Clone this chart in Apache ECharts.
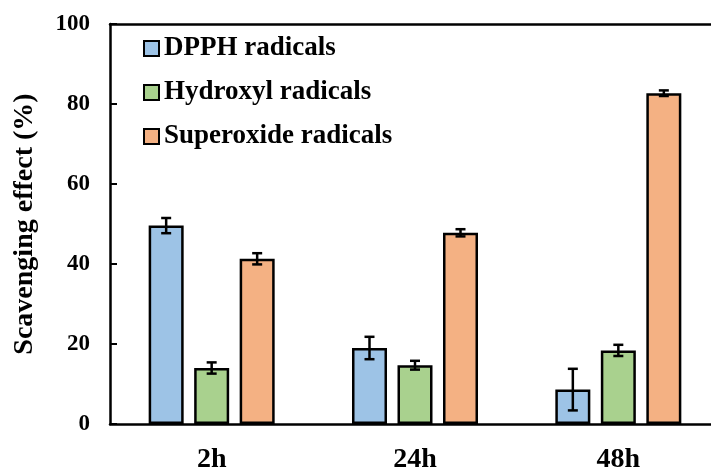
<!DOCTYPE html>
<html>
<head>
<meta charset="utf-8">
<script src="https://cdn.jsdelivr.net/npm/echarts@6/dist/echarts.min.js"></script>
<style>
  html, body { margin: 0; padding: 0; background: #fff; }
  #chart { width: 711px; height: 467px; }
</style>
</head>
<body>
<div id="chart"></div>
<script>
// categories and series
const categories = ["2h", "24h", "48h"];
const seriesNames = ["DPPH radicals", "Hydroxyl radicals", "Superoxide radicals"];
const dpph = [49.6, 19.0, 8.6];
const dpphErr = [1.9, 2.8, 5.2];
const hydroxyl = [14.0, 14.7, 18.4];
const hydroxylErr = [1.4, 1.1, 1.4];
const superoxide = [41.3, 47.8, 82.7];
const superoxideErr = [1.4, 0.9, 0.7];
const yTicks = [0, 20, 40, 60, 80, 100];

const colors = ["#9DC3E6", "#A9D18E", "#F4B183"];
const values = [dpph, hydroxyl, superoxide];
const errs = [dpphErr, hydroxylErr, superoxideErr];

const BAR_W = 35;
const BAR_GAP = 0.3; // fraction of bar width
const FONT = "Liberation Serif";

const chart = echarts.init(document.getElementById("chart"));

// error bars, one custom series per bar series so they sit on the right bar
function errSeries(idx) {
  return {
    type: "custom",
    name: seriesNames[idx] + " err",
    z: 10,
    data: values[idx].map(function (v, i) { return [i, v, errs[idx][i]]; }),
    encode: { x: 0, y: 1 },
    renderItem: function (params, api) {
      const ci = api.value(0);
      const v = api.value(1);
      const e = api.value(2);
      const pitch = BAR_W * (1 + BAR_GAP);
      const dx = (idx - 1) * pitch;
      const hi = api.coord([ci, v + e]);
      const lo = api.coord([ci, v - e]);
      const x = hi[0] + dx;
      const cap = 5;
      const style = { stroke: "#000", lineWidth: 2.5 };
      return {
        type: "group",
        children: [
          { type: "line", shape: { x1: x, y1: hi[1], x2: x, y2: lo[1] }, style: style },
          { type: "line", shape: { x1: x - cap, y1: hi[1], x2: x + cap, y2: hi[1] }, style: style },
          { type: "line", shape: { x1: x - cap, y1: lo[1], x2: x + cap, y2: lo[1] }, style: style }
        ]
      };
    }
  };
}

const barSeries = seriesNames.map(function (name, idx) {
  return {
    name: name,
    type: "bar",
    barWidth: BAR_W,
    barGap: (BAR_GAP * 100) + "%",
    itemStyle: { color: colors[idx], borderColor: "#000", borderWidth: 2.5 },
    data: values[idx]
  };
});

chart.setOption({
  animation: false,
  textStyle: { fontFamily: FONT },
  grid: { left: 110, right: -9, top: 24, bottom: 43, containLabel: false, outerBoundsMode: "none" },
  legend: {
    data: seriesNames,
    orient: "vertical",
    left: 138,
    top: 30,
    itemWidth: 15,
    itemHeight: 15,
    itemGap: 17,
    icon: "rect",
    textStyle: { fontFamily: FONT, fontWeight: "bold", fontSize: 27, color: "#000" }
  },
  xAxis: [
    {
      type: "category",
      data: categories,
      axisLine: { lineStyle: { color: "#000", width: 2.5 } },
      axisTick: { show: false },
      axisLabel: { fontFamily: FONT, fontWeight: "bold", fontSize: 28, color: "#000", margin: 22 }
    },
    {
      type: "category",
      position: "top",
      data: categories,
      axisLine: { lineStyle: { color: "#000", width: 2.5 } },
      axisTick: { show: false },
      axisLabel: { show: false }
    }
  ],
  yAxis: {
    type: "value",
    min: yTicks[0],
    max: yTicks[yTicks.length - 1],
    interval: 20,
    name: "Scavenging effect (%)",
    nameLocation: "middle",
    nameGap: 71,
    nameTextStyle: { fontFamily: FONT, fontWeight: "bold", fontSize: 28, color: "#000" },
    axisLine: { show: true, lineStyle: { color: "#000", width: 2.5 } },
    axisTick: { show: true, inside: true, length: 7, lineStyle: { color: "#000", width: 2 } },
    splitLine: { show: false },
    axisLabel: { fontFamily: FONT, fontWeight: "bold", fontSize: 23, color: "#000", margin: 20 }
  },
  series: barSeries.concat([errSeries(0), errSeries(1), errSeries(2)])
});
</script>
</body>
</html>
